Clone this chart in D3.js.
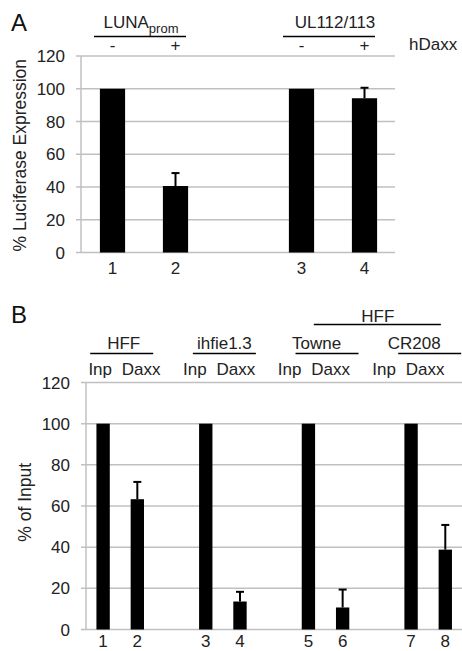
<!DOCTYPE html>
<html>
<head>
<meta charset="utf-8">
<script src="https://cdn.jsdelivr.net/npm/d3@7"></script>
<style>
  body { margin: 0; background: #fff; }
  svg { display: block; font-family: Arial, "Liberation Sans", sans-serif; }
</style>
</head>
<body>
<div id="chart"></div>
<script>
// panel A data
const aGroups = ["LUNA", "UL112/113"];
const aGroupSub = ["prom", ""];
const aLanes = [["1", "2"], ["3", "4"]];
const aSigns = ["-", "+", "-", "+"];
const aValues = [100, 40.6, 100, 94.2];
const aErrors = [0, 7.9, 0, 6.4];

// panel B data
const bGroups = ["HFF", "ihfie1.3", "Towne", "CR208"];
const bLanes = [["1", "2"], ["3", "4"], ["5", "6"], ["7", "8"]];
const bSub = ["Inp", "Daxx"];
const bValues = [100, 63.3, 100, 13.6, 100, 10.7, 100, 38.8];
const bErrors = [0, 8.4, 0, 4.7, 0, 8.7, 0, 12];
const bSuper = "HFF"; // spans the last two groups

const yTicks = [0, 20, 40, 60, 80, 100, 120];

const W = 462, H = 651;
const svg = d3.select("#chart").append("svg")
  .attr("width", W).attr("height", H);

const grid = "#c0c0c0";
const tickFont = "17px";

// band domain with an empty slot between groups
function slots(lanes) {
  const out = [];
  lanes.forEach((g, i) => {
    if (i > 0) out.push("gap" + i);
    g.forEach(l => out.push(l));
  });
  return out;
}

function drawPanel(cfg) {
  const x = d3.scaleBand().domain(slots(cfg.lanes))
    .range([cfg.left, cfg.right]).paddingInner(cfg.pad).paddingOuter(cfg.pad / 2);
  const y = d3.scaleLinear().domain([0, 120]).range([cfg.bottom, cfg.top]);
  const g = svg.append("g");

  // gridlines
  g.selectAll(".grid").data(yTicks).enter().append("line")
    .attr("x1", cfg.left - 5).attr("x2", cfg.gridEnd)
    .attr("y1", d => y(d)).attr("y2", d => y(d))
    .attr("stroke", grid).attr("stroke-width", 1.5);

  // y axis line
  g.append("line")
    .attr("x1", cfg.left).attr("x2", cfg.left)
    .attr("y1", y(0)).attr("y2", y(120))
    .attr("stroke", grid).attr("stroke-width", 1.5);

  g.selectAll(".yl").data(yTicks).enter().append("text")
    .attr("x", cfg.left - 16).attr("y", d => y(d))
    .attr("dy", "0.36em").attr("text-anchor", "end")
    .style("font-size", tickFont).attr("fill", "#222")
    .text(d => d);

  const lanes = cfg.lanes.flat();
  // bars
  g.selectAll(".bar").data(lanes).enter().append("rect")
    .attr("x", d => x(d)).attr("width", x.bandwidth())
    .attr("y", (d, i) => y(cfg.values[i]))
    .attr("height", (d, i) => y(0) - y(cfg.values[i]))
    .attr("fill", "#000");

  // error bars (upper only)
  lanes.forEach((d, i) => {
    if (!cfg.errors[i]) return;
    const cx = x(d) + x.bandwidth() / 2;
    const top = y(cfg.values[i] + cfg.errors[i]);
    g.append("line").attr("x1", cx).attr("x2", cx)
      .attr("y1", y(cfg.values[i])).attr("y2", top)
      .attr("stroke", "#000").attr("stroke-width", 2);
    g.append("line").attr("x1", cx - 4).attr("x2", cx + 4)
      .attr("y1", top).attr("y2", top)
      .attr("stroke", "#000").attr("stroke-width", 2);
  });

  // lane numbers
  g.selectAll(".xl").data(lanes).enter().append("text")
    .attr("x", d => x(d) + x.bandwidth() / 2).attr("y", cfg.xLabelY)
    .attr("text-anchor", "middle").style("font-size", tickFont).attr("fill", "#222")
    .text(d => d);

  // y title
  g.append("text")
    .attr("transform", `translate(${cfg.titleX},${(y(0) + cfg.titleTop) / 2})rotate(-90)`)
    .attr("text-anchor", "middle").attr("dy", "0.35em")
    .style("font-size", "17.5px").attr("fill", "#222")
    .text(cfg.title);

  // panel letter
  g.append("text").attr("x", 11).attr("y", cfg.letterY)
    .style("font-size", "24px").attr("fill", "#111").text(cfg.letter);

  return { x, y, g };
}

// ---------- panel A ----------
const A = drawPanel({
  lanes: aLanes, values: aValues, errors: aErrors,
  left: 81, right: 396, gridEnd: 395, pad: 0.6,
  top: 56, bottom: 252.5, xLabelY: 274,
  title: "% Luciferase Expression", titleX: 20, titleTop: 58,
  letter: "A", letterY: 31
});

aLanes.forEach((pair, i) => {
  const c0 = A.x(pair[0]) + A.x.bandwidth() / 2;
  const c1 = A.x(pair[1]) + A.x.bandwidth() / 2;
  const mid = (c0 + c1) / 2;
  const t = A.g.append("text").attr("x", mid - 3 + (aGroupSub[i] ? 0 : 5)).attr("y", 28)
    .attr("text-anchor", "middle").style("font-size", "17px").attr("fill", "#222");
  t.append("tspan").text(aGroups[i]);
  if (aGroupSub[i]) {
    t.append("tspan").attr("dy", 5).style("font-size", "13px").text(aGroupSub[i]);
  }
  A.g.append("line").attr("x1", mid - 50).attr("x2", mid + 42)
    .attr("y1", 36.5).attr("y2", 36.5).attr("stroke", "#000").attr("stroke-width", 1.5);
  [c0, c1].forEach((cx, k) => {
    A.g.append("text").attr("x", cx).attr("y", 51)
      .attr("text-anchor", "middle").style("font-size", "17px").attr("fill", "#222")
      .text(aSigns[i * 2 + k]);
  });
});
A.g.append("text").attr("x", 409).attr("y", 50)
  .style("font-size", "17px").attr("fill", "#222").text("hDaxx");

// ---------- panel B ----------
const B = drawPanel({
  lanes: bLanes, values: bValues, errors: bErrors,
  left: 86, right: 462.4, gridEnd: 462, pad: 0.61,
  top: 382.5, bottom: 629.5, xLabelY: 647,
  title: "% of Input", titleX: 25, titleTop: 375,
  letter: "B", letterY: 323
});

const headShift = [3.5, 1.5, -9, -14];
const pairMids = bLanes.map(pair => {
  const c0 = B.x(pair[0]) + B.x.bandwidth() / 2;
  const c1 = B.x(pair[1]) + B.x.bandwidth() / 2;
  return (c0 + c1) / 2;
});
pairMids.forEach((mid, i) => {
  B.g.append("text").attr("x", mid + headShift[i]).attr("y", 349)
    .attr("text-anchor", "middle").style("font-size", "17px").attr("fill", "#222")
    .text(bGroups[i]);
  B.g.append("line").attr("x1", mid - 30).attr("x2", mid + 33)
    .attr("y1", 353.5).attr("y2", 353.5).attr("stroke", "#000").attr("stroke-width", 1.5);
  bSub.forEach((s, k) => {
    B.g.append("text").attr("x", mid + (k ? 21 : -20) - 8 * i).attr("y", 375)
      .attr("text-anchor", "middle").style("font-size", "17px").attr("fill", "#222")
      .text(s);
  });
});
const supMid = (pairMids[2] + pairMids[3]) / 2;
B.g.append("text").attr("x", supMid + 1).attr("y", 321.5)
  .attr("text-anchor", "middle").style("font-size", "17px").attr("fill", "#222").text(bSuper);
B.g.append("line").attr("x1", supMid - 63).attr("x2", supMid + 64)
  .attr("y1", 324.5).attr("y2", 324.5).attr("stroke", "#000").attr("stroke-width", 1.5);
</script>
</body>
</html>
